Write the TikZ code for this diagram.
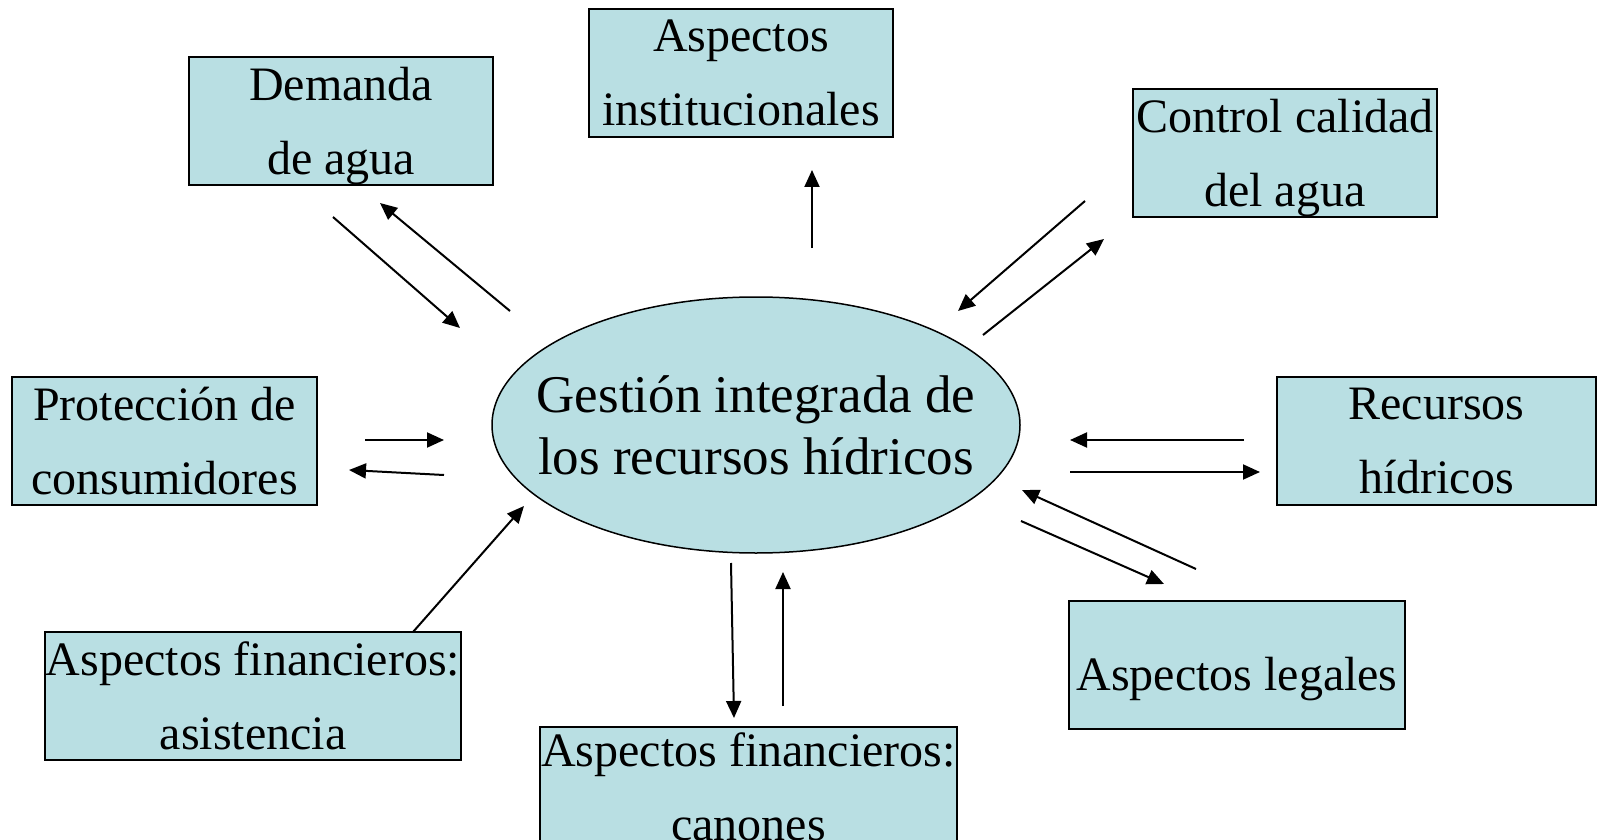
\documentclass[tikz,border=0pt]{standalone}
\usepackage{fontspec}
\setmainfont{Liberation Serif}
\usepackage{tikz}
\usetikzlibrary{positioning}
\usetikzlibrary{shapes.geometric}
\usetikzlibrary{arrows.meta}
\definecolor{aguaclara}{RGB}{185,223,227}

\begin{document}
\begin{tikzpicture}[x=0.5pt, y=-0.5pt,
                caja/.style={draw, line width=1pt, fill=aguaclara, rectangle, inner sep=0pt, minimum height=64pt, align=center, font=\fontsize{24pt}{37pt}\selectfont},
                flecha/.style={-{Triangle[length=8.5pt,width=7.5pt]}, line width=1pt}]

                \path[use as bounding box, fill=white] (0,0) rectangle (1602,840);

                % Nodes
                \node at (756,425) (gest) [draw, ellipse, fill=aguaclara, line width=0.75pt, minimum width=264pt, minimum height=128pt, inner xsep=-20pt, inner ysep=0pt, align=center, font=\fontsize{26.5pt}{31pt}\selectfont] {Gestión integrada de\\los recursos hídricos};
                \node at (341,121) (dem) [caja, minimum width=152pt, text depth=0pt] {Demanda\\de agua};
                \node at (741,73) (inst) [caja, minimum width=152pt] {Aspectos\\institucionales};
                \node at (1285,153) (cal) [caja, minimum width=152pt, text depth=-1pt] {Control calidad\\del agua};
                \node at (164.5,441) (prot) [caja, minimum width=152.5pt] {Protección de\\consumidores};
                \node at (1436.5,441) (rec) [caja, minimum width=159.5pt] {Recursos\\hídricos};
                \node at (253,696) (asis) [caja, minimum width=208pt] {Aspectos financieros:\\asistencia};
                \node at (748.5,791) (can) [caja, minimum width=208.5pt, text depth=4pt] {Aspectos financieros:\\canones};
                \node at (1237,665) (leg) [caja, minimum width=168pt, text height=25pt, text depth=0pt] {Aspectos legales};

                % Arrow ends
                \coordinate (dem1) at (333,217);  \coordinate (dem2) at (460,328);
                \coordinate (dem3) at (510,311);  \coordinate (dem4) at (380,203);
                \coordinate (inst1) at (812,248); \coordinate (inst2) at (812,170);
                \coordinate (cal1) at (1085,201); \coordinate (cal2) at (958,311);
                \coordinate (cal3) at (983,335);  \coordinate (cal4) at (1104,239);
                \coordinate (prot1) at (365,440); \coordinate (prot2) at (444,440);
                \coordinate (prot3) at (444,475); \coordinate (prot4) at (349,470);
                \coordinate (rec1) at (1244,440); \coordinate (rec2) at (1070,440);
                \coordinate (rec3) at (1070,472); \coordinate (rec4) at (1260,472);
                \coordinate (leg1) at (1196,569); \coordinate (leg2) at (1022,490);
                \coordinate (leg3) at (1021,521); \coordinate (leg4) at (1164,584);
                \coordinate (can1) at (731,563);  \coordinate (can2) at (734,718);
                \coordinate (can3) at (783,706);  \coordinate (can4) at (783,572);
                \coordinate (asis1) at (413,632); \coordinate (asis2) at (524,506);

                % Arrows
                \draw[flecha] (dem1) -- (dem2);
                \draw[flecha] (dem3) -- (dem4);
                \draw[flecha] (inst1) -- (inst2);
                \draw[flecha] (cal1) -- (cal2);
                \draw[flecha] (cal3) -- (cal4);
                \draw[flecha] (prot1) -- (prot2);
                \draw[flecha] (prot3) -- (prot4);
                \draw[flecha] (rec1) -- (rec2);
                \draw[flecha] (rec3) -- (rec4);
                \draw[flecha] (leg1) -- (leg2);
                \draw[flecha] (leg3) -- (leg4);
                \draw[flecha] (can1) -- (can2);
                \draw[flecha] (can3) -- (can4);
                \draw[flecha] (asis1) -- (asis2);

            \end{tikzpicture}
\end{document}
